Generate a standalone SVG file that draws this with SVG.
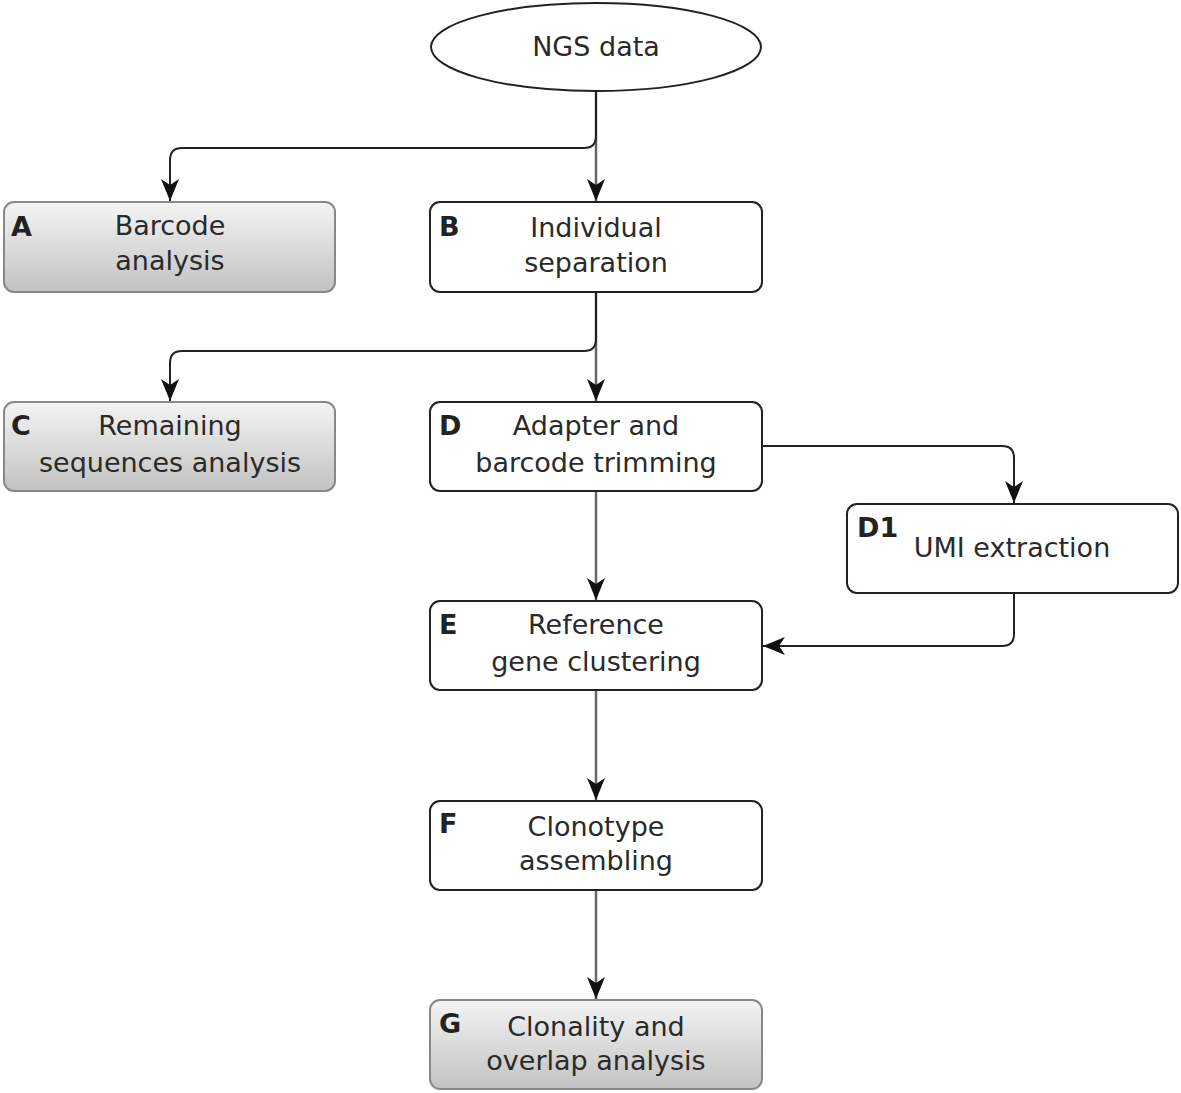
<svg xmlns="http://www.w3.org/2000/svg" width="1181" height="1093" viewBox="0 0 1181 1093">
<style>
.box{fill:#fff;stroke:#222;stroke-width:2}
.gbox{fill:url(#grad);stroke:#888;stroke-width:2}
.t{font-family:"DejaVu Sans",sans-serif;font-size:27px;fill:#2a2a2a;text-anchor:middle}
.l{font-family:"DejaVu Sans",sans-serif;font-size:27px;font-weight:bold;fill:#222}
.c{fill:none;stroke:#222;stroke-width:2}
.v{fill:none;stroke:#666;stroke-width:2.5}
</style>
<defs>
<linearGradient id="grad" x1="0" y1="0" x2="0" y2="1">
<stop offset="0" stop-color="#f4f4f4"/>
<stop offset="1" stop-color="#c2c2c2"/>
</linearGradient>
<marker id="arr" markerWidth="24" markerHeight="20" refX="22" refY="10" orient="auto" markerUnits="userSpaceOnUse">
<path d="M0,1 L22,10 L0,19 L6,10 Z" fill="#111"/>
</marker>
</defs>
<g id="connectors">
<path class="v" d="M596,91 V201" marker-end="url(#arr)"/>
<path class="c" d="M596,91 V136 Q596,148 584,148 H182 Q170,148 170,160 V201" marker-end="url(#arr)"/>
<path class="v" d="M596,292 V401" marker-end="url(#arr)"/>
<path class="c" d="M596,292 V339 Q596,351 584,351 H182 Q170,351 170,363 V401" marker-end="url(#arr)"/>
<path class="c" d="M762,446 H1002 Q1014,446 1014,458 V503" marker-end="url(#arr)"/>
<path class="v" d="M596,491 V600" marker-end="url(#arr)"/>
<path class="c" d="M1014,593 V634 Q1014,646 1002,646 H763" marker-end="url(#arr)"/>
<path class="v" d="M596,690 V800" marker-end="url(#arr)"/>
<path class="v" d="M596,890 V999" marker-end="url(#arr)"/>
</g>
<g id="ngs">
<ellipse cx="596" cy="47" rx="165" ry="44" fill="#fff" stroke="#222" stroke-width="2"/>
<text class="t" x="596" y="56">NGS data</text>
</g>
<g id="nodeA">
<rect class="gbox" x="4" y="202" width="331" height="90" rx="10"/>
<text class="l" x="11" y="236">A</text>
<text class="t" x="170" y="235">Barcode</text>
<text class="t" x="170" y="270">analysis</text>
</g>
<g id="nodeB">
<rect class="box" x="430" y="202" width="332" height="90" rx="10"/>
<text class="l" x="439" y="236">B</text>
<text class="t" x="596" y="237">Individual</text>
<text class="t" x="596" y="272">separation</text>
</g>
<g id="nodeC">
<rect class="gbox" x="4" y="402" width="331" height="89" rx="10"/>
<text class="l" x="11" y="435">C</text>
<text class="t" x="170" y="435">Remaining</text>
<text class="t" x="170" y="472">sequences analysis</text>
</g>
<g id="nodeD">
<rect class="box" x="430" y="402" width="332" height="89" rx="10"/>
<text class="l" x="439" y="435">D</text>
<text class="t" x="596" y="435">Adapter and</text>
<text class="t" x="596" y="472">barcode trimming</text>
</g>
<g id="nodeD1">
<rect class="box" x="847" y="504" width="331" height="89" rx="10"/>
<text class="l" x="857" y="537">D1</text>
<text class="t" x="1012" y="557">UMI extraction</text>
</g>
<g id="nodeE">
<rect class="box" x="430" y="601" width="332" height="89" rx="10"/>
<text class="l" x="439" y="634">E</text>
<text class="t" x="596" y="634">Reference</text>
<text class="t" x="596" y="671">gene clustering</text>
</g>
<g id="nodeF">
<rect class="box" x="430" y="801" width="332" height="89" rx="10"/>
<text class="l" x="439" y="833">F</text>
<text class="t" x="596" y="836">Clonotype</text>
<text class="t" x="596" y="870">assembling</text>
</g>
<g id="nodeG">
<rect class="gbox" x="430" y="1000" width="332" height="89" rx="10"/>
<text class="l" x="439" y="1033">G</text>
<text class="t" x="596" y="1036">Clonality and</text>
<text class="t" x="596" y="1070">overlap analysis</text>
</g>
</svg>
